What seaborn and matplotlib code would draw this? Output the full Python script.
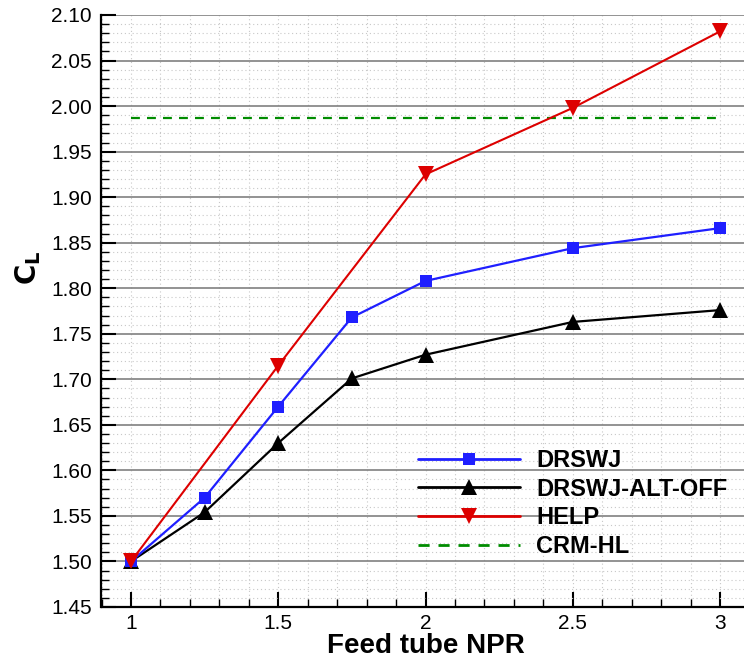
import matplotlib
matplotlib.use("Agg")
import matplotlib.pyplot as plt
import seaborn as sns
import pandas as pd
from matplotlib.ticker import MultipleLocator, FixedLocator

# ---- data ----
npr_drswj = [1.0, 1.25, 1.5, 1.75, 2.0, 2.5, 3.0]
cl_drswj = [1.500, 1.570, 1.670, 1.768, 1.808, 1.844, 1.866]

npr_alt = [1.0, 1.25, 1.5, 1.75, 2.0, 2.5, 3.0]
cl_alt = [1.500, 1.554, 1.630, 1.701, 1.727, 1.763, 1.776]

npr_help = [1.0, 1.5, 2.0, 2.5, 3.0]
cl_help = [1.500, 1.715, 1.925, 1.998, 2.082]

npr_crm = [1.0, 3.0]
cl_crm = [1.987, 1.987]

xticks = [1, 1.5, 2, 2.5, 3]
xtick_labels = ["1", "1.5", "2", "2.5", "3"]
yticks = [1.45, 1.50, 1.55, 1.60, 1.65, 1.70, 1.75, 1.80, 1.85, 1.90, 1.95, 2.00, 2.05, 2.10]
ytick_labels = [f"{v:.2f}" for v in yticks]

sns.set_theme(style="white")
plt.rcParams['font.family'] = ['Liberation Sans', 'DejaVu Sans']

W, H = 744, 664
fig = plt.figure(figsize=(W / 100, H / 100), dpi=100)
left_px, right_px, top_px, bot_px = 101.5, 749.5, 15, 607
ax = fig.add_axes([left_px / W, 1 - bot_px / H, (right_px - left_px) / W, (bot_px - top_px) / H])

# gridlines
ax.set_xlim(0.9, 3.1)
ax.set_ylim(1.45, 2.10)
ax.xaxis.set_major_locator(FixedLocator(xticks))
ax.yaxis.set_major_locator(FixedLocator(yticks))
ax.xaxis.set_minor_locator(MultipleLocator(0.1))
ax.yaxis.set_minor_locator(MultipleLocator(0.01))
ax.grid(False)
ax.grid(which='minor', axis='both', color='#c8c8c8', linestyle=(0, (1, 2.5)), linewidth=0.8, zorder=0)
ax.grid(which='major', axis='x', color='#c8c8c8', linestyle=(0, (1, 2.5)), linewidth=0.8, zorder=0)
ax.grid(which='major', axis='y', color='#808080', linestyle='-', linewidth=1.2, zorder=0.5)
ax.set_axisbelow(True)

df_d = pd.DataFrame({"x": npr_drswj, "y": cl_drswj})
df_a = pd.DataFrame({"x": npr_alt, "y": cl_alt})
df_h = pd.DataFrame({"x": npr_help, "y": cl_help})
df_c = pd.DataFrame({"x": npr_crm, "y": cl_crm})

sns.lineplot(data=df_d, x="x", y="y", ax=ax, color="#1f1fff", linewidth=1.6,
             marker="s", markersize=9.3, markeredgewidth=0, label="DRSWJ", zorder=4)
sns.lineplot(data=df_a, x="x", y="y", ax=ax, color="black", linewidth=1.6,
             marker="^", markersize=11, markeredgewidth=0, label="DRSWJ-ALT-OFF", zorder=3)
sns.lineplot(data=df_h, x="x", y="y", ax=ax, color="#dd0000", linewidth=1.5,
             marker="v", markersize=11.5, markeredgewidth=0, label="HELP", zorder=5)
sns.lineplot(data=df_c, x="x", y="y", ax=ax, color="#008c00", linewidth=1.6,
             linestyle=(0, (4, 3.2)), label="CRM-HL", zorder=2)

ax.set_xticklabels(xtick_labels)
ax.set_yticklabels(ytick_labels)

for s in ["top", "right"]:
    ax.spines[s].set_visible(False)
for s in ["left", "bottom"]:
    ax.spines[s].set_color("black")
    ax.spines[s].set_linewidth(1.6)

ax.tick_params(which='major', direction='in', length=11, width=1.5, color='black',
               labelsize=15, pad=7, left=True, bottom=True)
ax.tick_params(which='minor', direction='in', length=6, width=1.0, color='black',
               left=True, bottom=True)
ax.tick_params(axis='x', which='major', pad=5)
for lbl in ax.get_xticklabels() + ax.get_yticklabels():
    lbl.set_color('black')

ax.set_xlabel("Feed tube NPR", fontsize=20, fontweight='bold', color='black', labelpad=0)
ax.set_ylabel(r"$\mathbf{C_L}$", fontsize=20, color='black')
ax.yaxis.set_label_coords(-0.090, 0.573)

leg = ax.legend(loc='upper left', bbox_to_anchor=(418 / W, 1 - 449 / H), bbox_transform=fig.transFigure,
                frameon=False, fontsize=17, handlelength=4.3, handletextpad=0.7,
                labelspacing=0.24, borderaxespad=0, borderpad=0)
for t in leg.get_texts():
    t.set_fontweight('bold')
    t.set_color('black')
for line in leg.get_lines():
    line.set_linewidth(2.0)

fig.savefig("out.png", dpi=100)
